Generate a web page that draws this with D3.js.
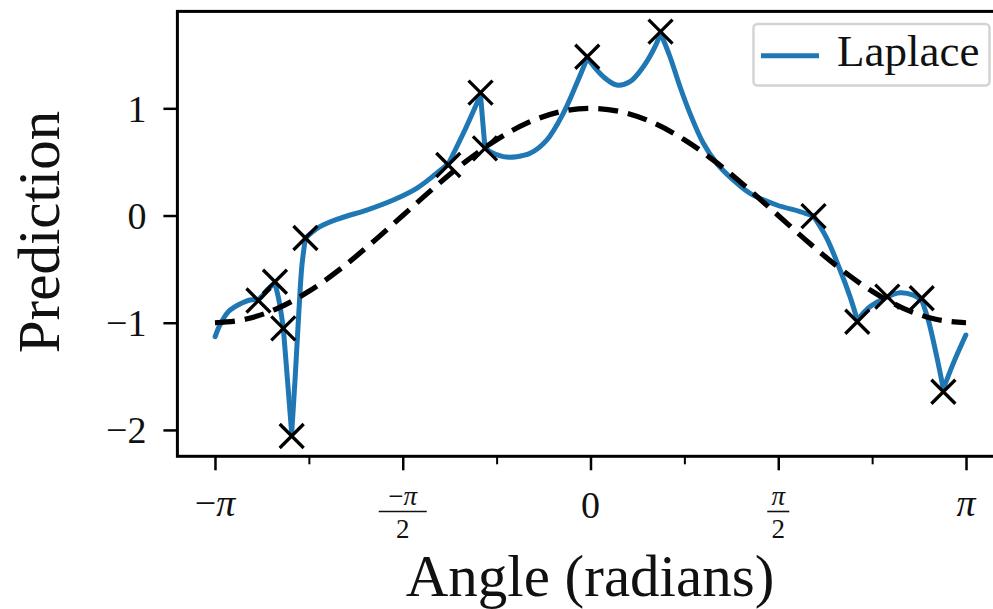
<!DOCTYPE html>
<html>
<head>
<meta charset="utf-8">
<script src="https://cdn.jsdelivr.net/npm/d3@7"></script>
<style>
  html, body { margin: 0; padding: 0; background: #fff; }
  svg { display: block; font-family: "Liberation Serif", "Times New Roman", serif; }
</style>
</head>
<body>
<svg id="chart" width="993" height="609"></svg>
<script>
// ---- Data ----
// Observed training points (black crosses)
const obsX = [-2.778, -2.640, -2.570, -2.500, -2.385, -1.190, -0.920, -0.883, -0.027, 0.586, 1.866, 2.232, 2.483, 2.771, 2.952];
const obsY = [-0.793, -0.618, -1.052, -2.057, -0.210, 0.471, 1.147, 0.627, 1.481, 1.715, -0.005, -0.991, -0.757, -0.772, -1.644];

// Laplace prediction curve (blue)
const lapX = [-3.14, -3.100, -3.033, -2.949, -2.849, -2.778, -2.748, -2.698, -2.640, -2.607, -2.570, -2.535, -2.500,
  -2.472, -2.439, -2.414, -2.385, -2.263, -2.096, -1.872, -1.650, -1.454, -1.287, -1.190, -1.064, -0.920,
  -0.899, -0.883, -0.841, -0.730, -0.617, -0.506, -0.366, -0.228, -0.115, -0.027, 0.107, 0.219, 0.330,
  0.442, 0.540, 0.586, 0.665, 0.749, 0.832, 0.944, 1.056, 1.195, 1.335, 1.558, 1.753, 1.866, 1.976,
  2.088, 2.171, 2.232, 2.338, 2.483, 2.589, 2.701, 2.771, 2.826, 2.897, 2.952, 3.035, 3.14];
const lapY = [-1.13, -1.021, -0.901, -0.835, -0.788, -0.785, -0.751, -0.686, -0.630, -0.788, -1.049, -1.535, -2.029,
  -1.535, -0.882, -0.462, -0.210, -0.104, -0.026, 0.051, 0.145, 0.254, 0.394, 0.480, 0.767, 1.125,
  0.844, 0.634, 0.595, 0.549, 0.549, 0.580, 0.704, 0.953, 1.233, 1.469, 1.295, 1.217, 1.248,
  1.388, 1.575, 1.702, 1.481, 1.201, 0.953, 0.674, 0.487, 0.331, 0.207, 0.098, 0.037, -0.005, -0.210,
  -0.508, -0.757, -0.975, -0.851, -0.757, -0.720, -0.742, -0.788, -0.975, -1.317, -1.618, -1.379, -1.115];

// True function (black dashed)
const truthX = [-3.1416, -2.8798, -2.6180, -2.3562, -2.0944, -1.8326, -1.5708, -1.3090, -1.0472, -0.7854, -0.5236, -0.2618, 0,
  0.2618, 0.5236, 0.7854, 1.0472, 1.3090, 1.5708, 1.8326, 2.0944, 2.3562, 2.6180, 2.8798, 3.1416];
const truthY = [-1, -0.966, -0.866, -0.707, -0.5, -0.259, 0, 0.259, 0.5, 0.707, 0.866, 0.966, 1,
  0.966, 0.866, 0.707, 0.5, 0.259, 0, -0.259, -0.5, -0.707, -0.866, -0.966, -1];

// Axis ticks
const yTicks = [-2, -1, 0, 1];
const xMajorMultiples = [-1, -0.5, 0, 0.5, 1];   // multiples of pi
const xMinorMultiples = [-0.75, -0.25, 0.25, 0.75];
const xTickLabels = [
  {sign: "\u2212", frac: false},
  {sign: "\u2212", frac: true},
  {text: "0"},
  {sign: "", frac: true},
  {sign: "", frac: false}
];
const legendLabel = "Laplace";
const xLabel = "Angle (radians)";
const yLabel = "Prediction";

// ---- Layout ----
const svg = d3.select("#chart");
const L = 177.4, R = 1003.6, T = 11.4, B = 456.3;
const x = d3.scaleLinear().domain([-3.456, 3.456]).range([L, R]);
const y = d3.scaleLinear().domain([-2.246, 1.904]).range([B, T]);
const blue = "#1f77b4";

// ---- Marks ----
const lapData = lapX.map((v, i) => [v, lapY[i]]);
const truthData = truthX.map((v, i) => [v, truthY[i]]);

// split the blue curve at the observation points (cusps of the Laplace kernel)
const isCusp = v => obsX.some(o => Math.abs(o - v) < 1e-6);
const segments = [];
let cur = [];
lapData.forEach((p, i) => {
  cur.push(p);
  if (isCusp(p[0]) && i > 0 && i < lapData.length - 1) {
    segments.push(cur);
    cur = [p];
  }
});
segments.push(cur);

const lapLine = d3.line().x(d => x(d[0])).y(d => y(d[1])).curve(d3.curveCatmullRom.alpha(0.5));
svg.append("g").selectAll("path").data(segments).join("path")
  .attr("d", lapLine)
  .attr("fill", "none").attr("stroke", blue).attr("stroke-width", 5)
  .attr("stroke-linejoin", "round").attr("stroke-linecap", "round");

svg.append("path")
  .datum(truthData)
  .attr("d", d3.line().x(d => x(d[0])).y(d => y(d[1])).curve(d3.curveMonotoneX))
  .attr("fill", "none").attr("stroke", "#000").attr("stroke-width", 5.2)
  .attr("stroke-dasharray", "20,10");

const ms = 12;
const cross = svg.append("g").selectAll("g").data(obsX.map((v, i) => [v, obsY[i]])).join("g")
  .attr("transform", d => `translate(${x(d[0])},${y(d[1])})`);
cross.append("path")
  .attr("d", `M${-ms},${-ms}L${ms},${ms}M${-ms},${ms}L${ms},${-ms}`)
  .attr("stroke", "#000").attr("stroke-width", 3.3).attr("fill", "none");

// ---- Axes ----
const yAxis = d3.axisLeft(y).tickValues(yTicks).tickSize(14).tickSizeOuter(0).tickPadding(17)
  .tickFormat(d => d < 0 ? "\u2212" + Math.abs(d) : String(d));
const gy = svg.append("g").attr("transform", `translate(${L},0)`).call(yAxis);
gy.select(".domain").remove();
gy.selectAll(".tick line").attr("stroke", "#000").attr("stroke-width", 2.5);
gy.selectAll(".tick text").attr("font-size", 38).attr("fill", "#111")
  .attr("font-family", "Liberation Serif, serif").attr("dy", "0.34em");

const xAxis = d3.axisBottom(x).tickValues(xMajorMultiples.map(m => m * Math.PI))
  .tickSize(14).tickSizeOuter(0).tickFormat("");
const gx = svg.append("g").attr("transform", `translate(0,${B})`).call(xAxis);
gx.select(".domain").remove();
gx.selectAll(".tick line").attr("stroke", "#000").attr("stroke-width", 2.5);

const xMinor = d3.axisBottom(x).tickValues(xMinorMultiples.map(m => m * Math.PI))
  .tickSize(8).tickSizeOuter(0).tickFormat("");
const gxm = svg.append("g").attr("transform", `translate(0,${B})`).call(xMinor);
gxm.select(".domain").remove();
gxm.selectAll(".tick line").attr("stroke", "#000").attr("stroke-width", 2);

// x tick labels (with pi and fractions)
xMajorMultiples.forEach((m, i) => {
  const cx = x(m * Math.PI);
  const lab = xTickLabels[i];
  const g = svg.append("g").attr("fill", "#111");
  if (lab.text !== undefined) {
    g.append("text").attr("x", cx).attr("y", 518).attr("text-anchor", "middle")
      .attr("font-size", 38).text(lab.text);
  } else if (!lab.frac) {
    const t = g.append("text").attr("x", cx).attr("y", 516).attr("text-anchor", "middle").attr("font-size", 38);
    if (lab.sign) t.append("tspan").text(lab.sign);
    t.append("tspan").attr("font-style", "italic").text("\u03c0");
  } else {
    const t = g.append("text").attr("x", cx).attr("y", 505).attr("text-anchor", "middle").attr("font-size", 27);
    if (lab.sign) t.append("tspan").text(lab.sign);
    t.append("tspan").attr("font-style", "italic").text("\u03c0");
    const w = lab.sign ? 48 : 22;
    g.append("line").attr("x1", cx - w / 2).attr("x2", cx + w / 2).attr("y1", 511.5).attr("y2", 511.5)
      .attr("stroke", "#111").attr("stroke-width", 1.6);
    g.append("text").attr("x", cx).attr("y", 538).attr("text-anchor", "middle").attr("font-size", 27).text("2");
  }
});

// Spines
svg.append("rect").attr("x", L).attr("y", T).attr("width", R - L).attr("height", B - T)
  .attr("fill", "none").attr("stroke", "#000").attr("stroke-width", 3);

// Axis labels
svg.append("text").attr("x", 590).attr("y", 596).attr("text-anchor", "middle")
  .attr("font-size", 59).attr("fill", "#111").text(xLabel);
svg.append("text").attr("transform", "translate(59,232) rotate(-90)").attr("text-anchor", "middle")
  .attr("font-size", 59).attr("fill", "#111").text(yLabel);

// Legend
const lg = svg.append("g");
lg.append("rect").attr("x", 753.5).attr("y", 24).attr("width", 236).attr("height", 61.5).attr("rx", 4)
  .attr("fill", "#fff").attr("fill-opacity", 0.85).attr("stroke", "#d4d4d4").attr("stroke-width", 2.5);
lg.append("line").attr("x1", 761).attr("x2", 819).attr("y1", 55.7).attr("y2", 55.7)
  .attr("stroke", blue).attr("stroke-width", 5);
lg.append("text").attr("x", 837).attr("y", 65.5).attr("font-size", 45).attr("fill", "#111").text(legendLabel);
</script>
</body>
</html>
